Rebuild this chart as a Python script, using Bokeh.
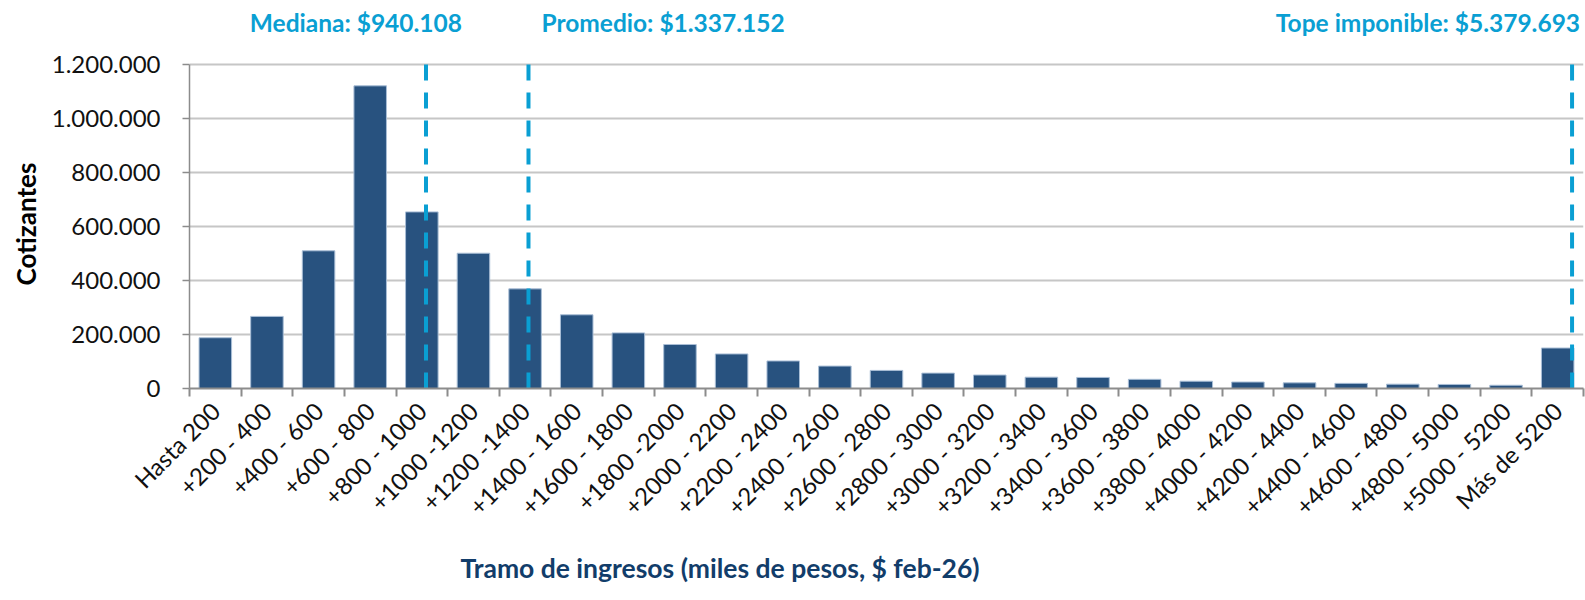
import math
from bokeh.plotting import figure
from bokeh.models import (Range1d, LinearAxis, FixedTicker, Label, Title,
                          CustomJSTickFormatter, ColumnDataSource)
from bokeh.embed import file_html
from bokeh.resources import INLINE

# ---------------- data ----------------
categories = ["Hasta 200", "+200 - 400", "+400 - 600", "+600 - 800", "+800 - 1000",
              "+1000 -1200", "+1200 -1400", "+1400 - 1600", "+1600 - 1800", "+1800 -2000",
              "+2000 - 2200", "+2200 - 2400", "+2400 - 2600", "+2600 - 2800", "+2800 - 3000",
              "+3000 - 3200", "+3200 - 3400", "+3400 - 3600", "+3600 - 3800", "+3800 - 4000",
              "+4000 - 4200", "+4200 - 4400", "+4400 - 4600", "+4600 - 4800", "+4800 - 5000",
              "+5000 - 5200", "Más de 5200"]
cotizantes = [188000, 267000, 510000, 1121000, 654000, 501000, 369000, 273000, 206000, 163000,
              128000, 102000, 83000, 67000, 57000, 50000, 42000, 41000, 34000, 27000,
              24000, 21000, 19000, 16000, 15000, 12000, 150000]
y_ticks = [0, 200000, 400000, 600000, 800000, 1000000, 1200000]
bucket_width = 200  # miles de pesos per tramo
ref_names = ["Mediana: $940.108", "Promedio: $1.337.152", "Tope imponible: $5.379.693"]
ref_values = [940.108, 1337.152, 5379.693]  # miles de pesos
x_title = "Tramo de ingresos (miles de pesos, $ feb-26)"
y_title = "Cotizantes"

# ---------------- styles / layout ----------------
BAR = "#28527F"
REF = "#0A9FD3"
AXIS = "#8c8c8c"
GRID = "#c6c6c6"
FONT = "Lato"
W, H = 1585, 600
LEFT, RIGHT = 189, 2          # borders around the plotting frame
ZERO_PX = 388                 # frame height (frame starts at the canvas top)
GRID_PX = 324                 # pixels from 0 to the top gridline
REF_SHIFT = -0.12             # small horizontal shift of the reference lines (category units)

n = len(categories)
centers = [i + 0.5 for i in range(n)]
y_top = y_ticks[-1] * ZERO_PX / GRID_PX

p = figure(width=W, height=H,
           x_range=Range1d(0, n), y_range=Range1d(0, y_top),
           x_axis_location=None,
           output_backend="svg", toolbar_location=None,
           min_border_left=LEFT, min_border_right=RIGHT, min_border_top=0,
           min_border_bottom=H - ZERO_PX)
p.outline_line_color = None
p.background_fill_color = "white"
p.border_fill_color = "white"

src = ColumnDataSource(dict(x=centers, val=cotizantes, cat=categories))
p.vbar(x="x", top="val", width=0.63, source=src, fill_color=BAR,
       line_color="#a9bed6", line_width=1)

# boundary tick axis (Excel style ticks between categories)
tick_axis = LinearAxis(ticker=FixedTicker(ticks=list(range(n + 1))),
                       formatter=CustomJSTickFormatter(code="return '';"),
                       major_label_text_font_size="0px", major_label_standoff=0,
                       major_tick_out=8, major_tick_in=0,
                       major_tick_line_color=AXIS, major_tick_line_width=2,
                       minor_tick_line_color=None,
                       axis_line_color=AXIS, axis_line_width=2)
p.add_layout(tick_axis, "below")

cat_axis = LinearAxis(ticker=FixedTicker(ticks=centers),
                      major_label_overrides={c: lab for c, lab in zip(centers, categories)},
                      major_label_orientation=math.pi / 4,
                      axis_line_color=None, major_tick_line_color=None,
                      minor_tick_line_color=None,
                      major_label_standoff=4,
                      major_label_text_font=FONT,
                      major_label_text_font_size="24px",
                      major_label_text_color="#111111")
p.add_layout(cat_axis, "below")
p.add_layout(Title(text=x_title, align="left", offset=271, standoff=32,
                   text_font=FONT, text_font_style="bold", text_font_size="26.5px",
                   text_color="#123D6A"), "below")

p.xgrid.visible = False
p.ygrid.grid_line_color = GRID
p.ygrid.grid_line_width = 2
p.ygrid.ticker = FixedTicker(ticks=y_ticks)

yax = p.yaxis[0]
yax.ticker = FixedTicker(ticks=y_ticks)
yax.bounds = (y_ticks[0], y_ticks[-1])
yax.formatter = CustomJSTickFormatter(
    code='return Math.round(tick).toString().replace(/\\B(?=(\\d{3})+(?!\\d))/g, ".");')
yax.major_tick_out = 7
yax.major_tick_in = 0
yax.minor_tick_line_color = None
yax.major_tick_line_color = AXIS
yax.major_tick_line_width = 1.5
yax.axis_line_color = AXIS
yax.axis_line_width = 1.5
yax.major_label_standoff = 22
yax.major_label_text_font = FONT
yax.major_label_text_font_size = "24px"
yax.major_label_text_color = "#111111"
p.add_layout(Title(text=y_title, align="left", offset=103, standoff=14,
                   text_font=FONT, text_font_style="bold", text_font_size="26px",
                   text_color="#000000"), "left")

# reference lines (drawn from 0 up to the top gridline)
aligns = ["right", "left", "right"]
offsets = [36, 13, 8]
ref_x = [v / bucket_width + REF_SHIFT for v in ref_values]
p.segment(x0=ref_x, x1=ref_x, y0=[y_ticks[0]] * 3, y1=[y_ticks[-1]] * 3,
          line_color=REF, line_width=4, line_dash="16 12")
for name, loc, al, off in zip(ref_names, ref_x, aligns, offsets):
    p.add_layout(Label(x=loc, y=ZERO_PX - 22, y_units="screen",
                       x_offset=off, text=name, text_align=al, text_baseline="middle",
                       text_font=FONT, text_font_style="bold", text_font_size="24.5px",
                       text_color=REF))

open("out.html", "w").write(file_html(p, INLINE))
